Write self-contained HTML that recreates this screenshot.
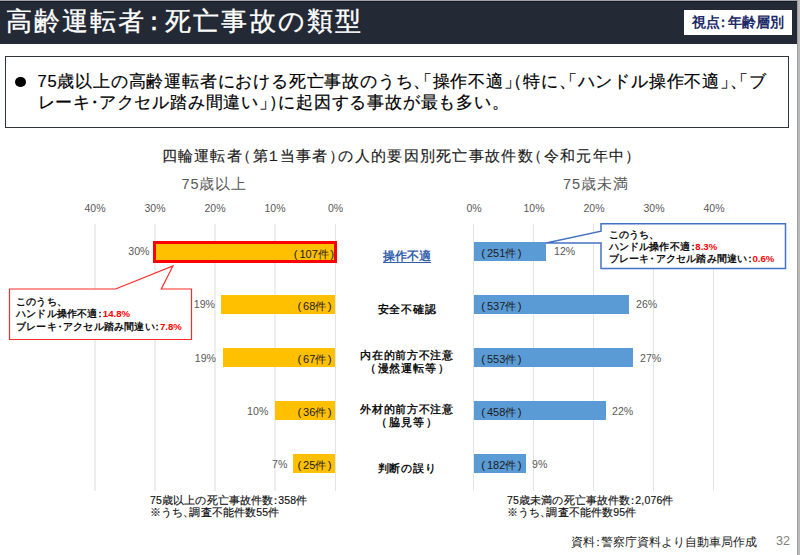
<!DOCTYPE html>
<html lang="ja">
<head>
<meta charset="utf-8">
<style>
html,body{margin:0;padding:0;}
body{width:800px;height:555px;position:relative;overflow:hidden;background:#fff;font-family:"Liberation Sans",sans-serif;color:#000;}
.a{position:absolute;white-space:nowrap;line-height:1;}
#topstrip{left:0;top:0;width:800px;height:1.2px;background:#a2a3a8;}
#rstrip{left:796.8px;top:0;width:3.2px;height:555px;background:linear-gradient(90deg,#8e8e8e,#b5b5b5 40%,#bdbdbd);}
#bar{left:0;top:1px;width:796.8px;height:43px;background:#232935;border-top:1px solid #151a25;box-sizing:border-box;}
#title{left:5.5px;top:7.8px;font-size:26px;letter-spacing:2.15px;color:#fff;-webkit-text-stroke:0.35px #fff;}
#viewt .cl{margin:0 -0.15em 0 -0.3em;}
#title .cl{margin:0 -0.16em 0 -0.2em;}
#view{left:683.7px;top:10px;width:108px;height:25px;background:#fff;}
#viewt{left:692px;top:15px;font-size:14px;font-weight:bold;color:#1d2a68;}
#box{left:5px;top:56px;width:781.5px;height:69.5px;border:1.7px solid #30353f;}
#bullet{left:14.5px;top:76.6px;width:11.2px;height:10.8px;border-radius:50%;background:#000;}
.l1{left:37.5px;font-size:16.5px;letter-spacing:0.8px;color:#000;-webkit-text-stroke:0.2px #000;}
#ctitle{left:161.5px;top:148.5px;font-size:14.5px;letter-spacing:1.3px;color:#1a1a1a;-webkit-text-stroke:0.15px #1a1a1a;}
#ctitle .n{margin:0 -0.2em;}
#ctitle .o{margin-left:-0.45em;}
#ctitle .c{margin-right:-0.45em;}
.sub{font-size:14.5px;letter-spacing:0.9px;color:#595959;}
.ax{font-size:10.5px;color:#595959;width:40px;text-align:center;top:203px;}
.grid{width:2px;background:#eeeef0;top:224px;height:266.5px;}
.ybar{background:#ffc000;height:19px;}
.bbar{background:#5b9bd5;height:19px;}
.cnt{font-size:11px;letter-spacing:0;color:#1a1a1a;}
.cnt .po{margin-right:1.8px;font-size:11.5px;}
.cnt .pc{margin-left:1.5px;font-size:11.5px;}
.pct{font-size:10.6px;color:#595959;}
.cat{font-size:10.6px;font-weight:bold;color:#111;text-align:center;width:120px;left:347px;line-height:13.3px;letter-spacing:0.7px;}
.note{font-size:10.5px;color:#111;line-height:12px;-webkit-text-stroke:0.15px #111;letter-spacing:0.15px;}
.call{font-size:10px;line-height:12.35px;letter-spacing:0.2px;color:#111;}
.call .d{margin:0 -0.2em;}
.call .red{font-size:9.6px;letter-spacing:0;}
.call .cl{margin:0 -0.25em;}
i{font-style:normal;}
.o{margin-left:-0.5em;}
.c{margin-right:-0.5em;}
.cat .o{margin-left:-0.5em;margin-right:0.12em;}
.cat .c{margin-right:-0.5em;margin-left:0.12em;}
.cl{margin:0 -0.3em;}
.d{margin:0 -0.3em;}
.b{font-weight:bold;}
.red{color:#ff0000;font-weight:bold;}
</style>
</head>
<body>
<div class="a" id="topstrip"></div>
<div class="a" id="bar"></div>
<div class="a" id="rstrip"></div>
<div class="a" id="title">高齢運転者<i class="cl">：</i>死亡事故の類型</div>
<div class="a" id="view"></div>
<div class="a" id="viewt">視点<i class="cl">：</i>年齢層別</div>

<div class="a" id="box"></div>
<div class="a" id="bullet"></div>
<div class="a l1" style="top:73.3px">75歳以上の高齢運転者における死亡事故のうち<i class="c">、</i><i class="o">「</i>操作不適<i class="c">」</i><i class="o">（</i>特に<i class="c">、</i><i class="o">「</i>ハンドル操作不適<i class="c">」</i><i class="c">、</i><i class="o">「</i>ブ</div>
<div class="a l1" style="top:93.6px">レーキ<i class="d">・</i>アクセル踏み間違い<i class="c">」</i><i class="c">）</i>に起因する事故が最も多い<i class="c">。</i></div>

<div class="a" id="ctitle">四輪運転者<i class="o">（</i>第<i class="n">１</i>当事者<i class="c">）</i>の人的要因別死亡事故件数<i class="o">（</i>令和元年中<i class="c">）</i></div>
<div class="a sub" style="left:181.5px;top:177px">75歳以上</div>
<div class="a sub" style="left:563px;top:177px">75歳未満</div>

<!-- left axis -->
<div class="a ax" style="left:75px">40%</div>
<div class="a ax" style="left:135px">30%</div>
<div class="a ax" style="left:195px">20%</div>
<div class="a ax" style="left:255px">10%</div>
<div class="a ax" style="left:315.5px">0%</div>
<div class="a grid" style="left:94px"></div>
<div class="a grid" style="left:154px"></div>
<div class="a grid" style="left:214px"></div>
<div class="a grid" style="left:274px"></div>
<div class="a grid" style="left:335px;width:1px;background:#e4e4e6"></div>

<!-- right axis -->
<div class="a ax" style="left:454px">0%</div>
<div class="a ax" style="left:514px">10%</div>
<div class="a ax" style="left:574px">20%</div>
<div class="a ax" style="left:634px">30%</div>
<div class="a ax" style="left:694px">40%</div>
<div class="a grid" style="left:473px;width:1px;background:#e4e4e6"></div>
<div class="a grid" style="left:533px;width:1px;background:#e4e4e6"></div>
<div class="a grid" style="left:593px;width:1px;background:#e4e4e6"></div>
<div class="a grid" style="left:653px;width:1px;background:#e4e4e6"></div>
<div class="a grid" style="left:713px;width:1px;background:#e4e4e6"></div>


<!-- left bars -->
<div class="a ybar" style="left:221px;top:294.5px;width:114px"></div>
<div class="a ybar" style="left:222.7px;top:347.8px;width:112.3px"></div>
<div class="a ybar" style="left:274.7px;top:401px;width:60.3px"></div>
<div class="a ybar" style="left:293.1px;top:454.2px;width:41.9px"></div>
<div class="a" style="left:153px;top:241px;width:178px;height:15.5px;border:3px solid #ff0000;background:#ffc000"></div>

<!-- right bars -->
<div class="a bbar" style="left:473.5px;top:241.5px;width:72.5px"></div>
<div class="a bbar" style="left:473.5px;top:294.5px;width:155.2px"></div>
<div class="a bbar" style="left:473.5px;top:347.8px;width:159.8px"></div>
<div class="a bbar" style="left:473.5px;top:401px;width:132.4px"></div>
<div class="a bbar" style="left:473.5px;top:454.2px;width:52.6px"></div>

<!-- left count labels -->
<div class="a cnt" style="right:465.8px;top:248.8px"><i class="po">(</i>107件<i class="pc">)</i></div>
<div class="a cnt" style="right:468.3px;top:301.0px"><i class="po">(</i>68件<i class="pc">)</i></div>
<div class="a cnt" style="right:468.3px;top:353.5px"><i class="po">(</i>67件<i class="pc">)</i></div>
<div class="a cnt" style="right:468.3px;top:406.5px"><i class="po">(</i>36件<i class="pc">)</i></div>
<div class="a cnt" style="right:468.3px;top:459.5px"><i class="po">(</i>25件<i class="pc">)</i></div>
<!-- right count labels -->
<div class="a cnt" style="left:481.3px;top:248.0px"><i class="po">(</i>251件<i class="pc">)</i></div>
<div class="a cnt" style="left:481.3px;top:301.0px"><i class="po">(</i>537件<i class="pc">)</i></div>
<div class="a cnt" style="left:481.3px;top:353.5px"><i class="po">(</i>553件<i class="pc">)</i></div>
<div class="a cnt" style="left:481.3px;top:406.5px"><i class="po">(</i>458件<i class="pc">)</i></div>
<div class="a cnt" style="left:481.3px;top:459.5px"><i class="po">(</i>182件<i class="pc">)</i></div>

<!-- left pct -->
<div class="a pct" style="right:650.5px;top:246px">30%</div>
<div class="a pct" style="right:585px;top:299px">19%</div>
<div class="a pct" style="right:584px;top:352.5px">19%</div>
<div class="a pct" style="right:531.7px;top:405.5px">10%</div>
<div class="a pct" style="right:512.6px;top:459px">7%</div>
<!-- right pct -->
<div class="a pct" style="left:554px;top:246px">12%</div>
<div class="a pct" style="left:636px;top:299px">26%</div>
<div class="a pct" style="left:640px;top:352.5px">27%</div>
<div class="a pct" style="left:612px;top:405.5px">22%</div>
<div class="a pct" style="left:532px;top:459px">9%</div>

<!-- categories -->
<div class="a cat" style="top:249.5px;font-size:12px;letter-spacing:0;color:#3560ad;text-decoration:underline;text-underline-offset:2px;text-decoration-thickness:1px">操作不適</div>
<div class="a cat" style="top:302.5px">安全不確認</div>
<div class="a cat" style="top:349px">内在的前方不注意<br><i class="o">（</i>漫然運転等<i class="c">）</i></div>
<div class="a cat" style="top:403px">外材的前方不注意<br><i class="o">（</i>脇見等<i class="c">）</i></div>
<div class="a cat" style="top:461.5px">判断の誤り</div>

<!-- callouts -->
<svg class="a" style="left:0;top:0" width="800" height="555">
<path d="M9.5 289 H115.6 L172.9 266 L161.3 289 H191.5 V339.5 H9.5 Z" fill="#fff" stroke="#ff2a2a" stroke-width="1.2"/>
<path d="M601 223.7 H785.5 V268.5 H601 V243 H546 L601 231.2 Z" fill="#fff" stroke="#4472c4" stroke-width="1.5"/>
</svg>
<div class="a call b" style="left:16px;top:296px">このうち<i class="c">、</i><br>ハンドル操作不適<i class="cl">：</i><span class="red">14.8%</span><br>ブレーキ<i class="d">・</i>アクセル踏み間違い<i class="cl">：</i><span class="red">7.8%</span></div>
<div class="a call b" style="left:608.5px;top:228.5px">このうち<i class="c">、</i><br>ハンドル操作不適<i class="cl">：</i><span class="red">8.3%</span><br>ブレーキ<i class="d">・</i>アクセル踏み間違い<i class="cl">：</i><span class="red">0.6%</span></div>

<!-- totals -->
<div class="a note" style="left:150px;top:493.5px">75歳以上の死亡事故件数<i class="cl">：</i>358件<br>※うち<i class="c">、</i>調査不能件数55件</div>
<div class="a note" style="left:507px;top:493.5px">75歳未満の死亡事故件数<i class="cl">：</i>2,076件<br>※うち<i class="c">、</i>調査不能件数95件</div>

<!-- footer -->
<div class="a" style="left:571px;top:535.5px;font-size:11.6px;letter-spacing:0;color:#222">資料<i class="cl" style="margin:0 -0.25em">：</i>警察庁資料より自動車局作成</div>
<div class="a" style="left:776px;top:535px;font-size:12.5px;color:#7f7f7f">32</div>
</body>
</html>
